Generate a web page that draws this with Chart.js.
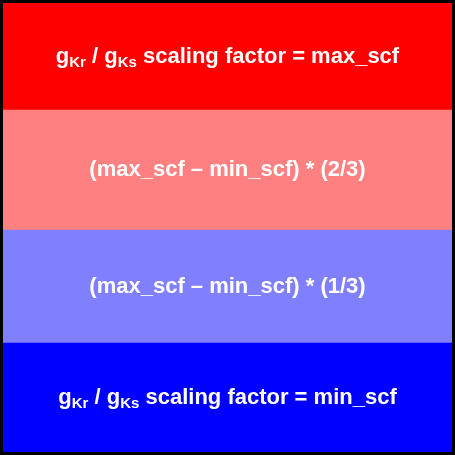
<!DOCTYPE html>
<html><head><meta charset="utf-8">
<script src="https://cdn.jsdelivr.net/npm/chart.js@4"></script>
<style>html,body{margin:0;padding:0;background:#000;width:455px;height:455px;overflow:hidden}
#wrap{position:absolute;left:3px;top:3px;width:449px;height:449px}</style>
</head><body><div id="wrap"><canvas id="c"></canvas></div>
<script>
const categories = ['band'];
const bandNames = ['min', 'third', 'twoThirds', 'max'];
const bandHeights = [109, 113, 120, 107];
const bandColors = ['#0000ff', '#8080ff', '#ff8080', '#ff0000'];
const bandLabels = [
  [['g',''],['Kr','sub'],[' / g',''],['Ks','sub'],[' scaling factor = min_scf','']],
  [['(max_scf \u2013 min_scf) * (1/3)','']],
  [['(max_scf \u2013 min_scf) * (2/3)','']],
  [['g',''],['Kr','sub'],[' / g',''],['Ks','sub'],[' scaling factor = max_scf','']]
];
const labelPlugin = {
  id: 'lbl',
  afterDatasetsDraw(chart) {
    const ctx = chart.ctx;
    ctx.save();
    ctx.fillStyle = '#fff';
    ctx.textBaseline = 'middle';
    chart.data.datasets.forEach((ds, i) => {
      const el = chart.getDatasetMeta(i).data[0];
      const cy = (el.y + el.base) / 2;
      const parts = bandLabels[i];
      const big = 'bold 22px "Liberation Sans", Arial, sans-serif';
      const small = 'bold 15px "Liberation Sans", Arial, sans-serif';
      let w = 0;
      parts.forEach(p => { ctx.font = p[1] ? small : big; w += ctx.measureText(p[0]).width; });
      let x = el.x - w / 2;
      parts.forEach(p => {
        ctx.font = p[1] ? small : big;
        ctx.fillText(p[0], x, p[1] ? cy + 6 : cy);
        x += ctx.measureText(p[0]).width;
      });
    });
    ctx.restore();
  }
};
new Chart(document.getElementById('c'), {
  type: 'bar',
  data: {
    labels: categories,
    datasets: bandNames.map((n, i) => ({
      label: n, data: [bandHeights[i]], backgroundColor: bandColors[i],
      borderWidth: 0, barPercentage: 1, categoryPercentage: 1
    }))
  },
  options: {
    responsive: true, maintainAspectRatio: false, animation: false,
    layout: { padding: 0 },
    plugins: { legend: { display: false }, tooltip: { enabled: false } },
    scales: {
      x: { stacked: true, display: false },
      y: { stacked: true, display: false, min: 0, max: 449 }
    }
  },
  plugins: [labelPlugin]
});
</script></body></html>
